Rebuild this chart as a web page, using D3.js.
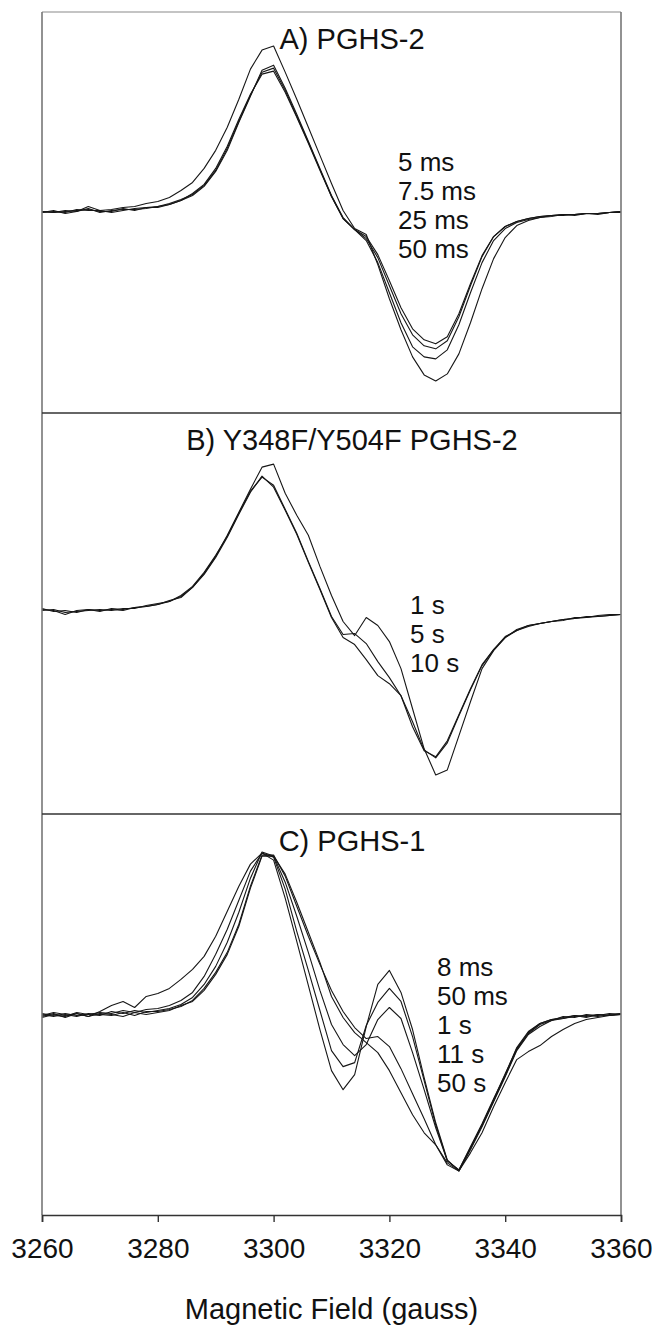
<!DOCTYPE html>
<html>
<head>
<meta charset="utf-8">
<script src="https://cdn.jsdelivr.net/npm/d3@7"></script>
<style>
  html, body { margin: 0; padding: 0; background: #fff; }
  svg { display: block; font-family: "Liberation Sans", Arial, Helvetica, sans-serif; }
</style>
</head>
<body>
<svg id="chart" width="652" height="1330"></svg>
<script>
// Magnetic field sampling points (gauss), shared by every EPR trace
const field = [3260, 3262, 3264, 3266, 3268, 3270, 3272, 3274, 3276, 3278,
               3280, 3282, 3284, 3286, 3288, 3290, 3292, 3294, 3296, 3298,
               3300, 3302, 3304, 3306, 3308, 3310, 3312, 3314, 3316, 3318,
               3320, 3322, 3324, 3326, 3328, 3330, 3332, 3334, 3336, 3338,
               3340, 3342, 3344, 3346, 3348, 3350, 3352, 3354, 3356, 3358, 3360];

const fieldTicks = [3260, 3280, 3300, 3320, 3340, 3360];

const panelTitles = ["A) PGHS-2", "B) Y348F/Y504F PGHS-2", "C) PGHS-1"];
const labelsA = ["5 ms", "7.5 ms", "25 ms", "50 ms"];
const labelsB = ["1 s", "5 s", "10 s"];
const labelsC = ["8 ms", "50 ms", "1 s", "11 s", "50 s"];

// Derivative EPR signal, arbitrary units (baseline = 0)
// A) PGHS-2
const pghs2_5ms   = [1, 0, 2, 1, 6, 2, 3, 5, 6, 9, 11, 15, 22, 30, 44, 62, 85, 113, 143, 162,
                     166, 140, 113, 85, 57, 29, 2, -16, -22, -52, -86, -117, -144, -162, -168, -161, -141, -110, -76, -46,
                     -25, -13, -8, -5, -4, -2, -3, -1, -2, 0, 1];
const pghs2_7_5ms = [0, 2, -1, 1, 4, 0, 2, 3, 3, 4, 6, 8, 12, 17, 26, 41, 62, 90, 116, 142,
                     147, 124, 98, 71, 44, 17, -5, -17, -24, -42, -68, -95, -116, -127, -131, -124, -101, -71, -43, -24,
                     -14, -9, -6, -4, -3, -2, -2, -1, -1, 0, 1];
const pghs2_25ms  = [1, 0, 1, 2, 3, 1, 1, 4, 2, 5, 6, 9, 13, 18, 27, 42, 64, 91, 117, 140,
                     144, 122, 96, 70, 43, 16, -6, -17, -26, -45, -73, -101, -122, -133, -136, -128, -104, -73, -44, -24,
                     -14, -9, -6, -4, -3, -2, -2, -1, -1, 0, 0];
const pghs2_50ms  = [0, 1, 0, 3, 2, 2, 0, 2, 4, 5, 5, 8, 12, 19, 28, 44, 66, 93, 118, 138,
                     141, 120, 95, 69, 42, 16, -6, -17, -28, -50, -80, -110, -134, -144, -146, -137, -112, -80, -50, -28,
                     -16, -10, -7, -5, -3, -3, -2, -1, -1, 0, 1];

// B) Y348F/Y504F PGHS-2
const mutant_1s  = [4, 3, -1, 3, 4, 2, 5, 4, 6, 7, 9, 12, 17, 26, 40, 57, 78, 101, 124, 146,
                    149, 120, 98, 78, 47, 18, -8, -22, -4, -12, -28, -55, -95, -135, -161, -156, -122, -88, -55, -37,
                    -24, -16, -12, -10, -8, -6, -5, -4, -3, -2, -1];
const mutant_5s  = [3, 4, 1, 2, 3, 4, 3, 5, 5, 8, 10, 12, 18, 27, 41, 58, 77, 100, 122, 136,
                    128, 104, 80, 52, 25, -3, -21, -20, -30, -48, -64, -82, -108, -136, -144, -129, -102, -76, -52, -36,
                    -24, -17, -12, -10, -8, -6, -5, -3, -3, -2, -1];
const mutant_10s = [5, 2, 3, 1, 4, 3, 4, 3, 6, 7, 9, 13, 16, 26, 39, 56, 76, 99, 121, 137,
                    126, 103, 79, 51, 24, -4, -24, -31, -46, -62, -70, -82, -113, -137, -143, -127, -101, -75, -51, -36,
                    -23, -17, -13, -10, -8, -7, -4, -4, -2, -1, -1];

// C) PGHS-1
const pghs1_8ms  = [-2, 1, -3, 1, -2, 3, 9, 13, 7, 18, 21, 26, 35, 45, 58, 78, 103, 128, 150, 161,
                    154, 116, 73, 29, -15, -56, -75, -60, -12, 30, 44, 22, -15, -63, -108, -145, -156, -134, -110, -85,
                    -59, -34, -18, -9, -5, -3, -1, -2, 0, -1, 1];
const pghs1_50ms = [0, -2, 1, -1, 0, 2, 1, 4, 2, 5, 6, 9, 14, 22, 38, 60, 85, 114, 143, 161,
                    157, 125, 83, 44, 4, -36, -52, -48, -11, 12, 26, 13, -22, -66, -110, -146, -155, -133, -111, -86,
                    -61, -35, -19, -10, -6, -2, -3, 0, -1, 1, 0];
const pghs1_1s   = [1, -1, -2, 2, 0, -1, 3, 1, 4, 2, 4, 6, 10, 17, 30, 48, 72, 102, 136, 162,
                    158, 132, 98, 62, 24, -10, -30, -41, -30, -5, 7, -4, -38, -75, -113, -146, -155, -132, -109, -84,
                    -60, -33, -17, -9, -5, -4, -2, -1, -2, 0, 1];
const pghs1_11s  = [-1, 2, 0, -2, 1, 0, -1, 2, -1, 3, 3, 5, 8, 14, 26, 42, 62, 90, 128, 159,
                    159, 138, 108, 78, 50, 24, 3, -13, -24, -22, -32, -54, -79, -104, -130, -150, -156, -135, -112, -87,
                    -62, -36, -20, -12, -6, -4, -1, -3, 0, -1, 0];
const pghs1_50s  = [-3, 0, -1, 1, -2, 1, 0, -2, 2, 0, 2, 4, 9, 13, 24, 40, 60, 88, 126, 158,
                    158, 140, 112, 82, 52, 18, -3, -18, -28, -38, -56, -78, -100, -118, -130, -148, -156, -138, -118, -92,
                    -68, -45, -37, -31, -22, -15, -9, -5, -3, -1, 0];

// ---- layout ----
const plotL = 42, plotR = 621;
const top0 = 12, panelH = 401;
const titleFont = 29, tickFont = 28, labelFont = 26;

const panels = [
  { title: panelTitles[0], labels: labelsA, traces: [pghs2_5ms, pghs2_7_5ms, pghs2_25ms, pghs2_50ms], labelX: 398, labelY0: 150 },
  { title: panelTitles[1], labels: labelsB, traces: [mutant_1s, mutant_5s, mutant_10s], labelX: 410, labelY0: 192 },
  { title: panelTitles[2], labels: labelsC, traces: [pghs1_8ms, pghs1_50ms, pghs1_1s, pghs1_11s, pghs1_50s], labelX: 437, labelY0: 153 }
];

const svg = d3.select("#chart");
const x = d3.scaleLinear().domain([3260, 3360]).range([plotL, plotR]);

panels.forEach((p, i) => {
  const top = top0 + i * panelH;
  const bottom = top + panelH;
  const y = d3.scaleLinear().domain([-200, 200]).range([bottom, top]);
  const g = svg.append("g").attr("class", "panel");

  // spectra
  const line = d3.line()
    .x((d, j) => x(field[j]))
    .y(d => y(d));
  g.selectAll("path.trace")
    .data(p.traces)
    .join("path")
    .attr("class", "trace")
    .attr("d", line)
    .attr("fill", "none")
    .attr("stroke", "#161616")
    .attr("stroke-width", 1.1)
    .attr("stroke-linejoin", "round");

  // panel title
  g.append("text")
    .attr("x", 352)
    .attr("y", top + 27)
    .attr("dy", "0.35em")
    .attr("text-anchor", "middle")
    .attr("font-size", titleFont)
    .attr("fill", "#111")
    .text(p.title);

  // time-point labels
  g.selectAll("text.tlabel")
    .data(p.labels)
    .join("text")
    .attr("class", "tlabel")
    .attr("x", p.labelX)
    .attr("y", (d, k) => top + p.labelY0 + k * 29)
    .attr("dy", "0.35em")
    .attr("font-size", labelFont)
    .attr("fill", "#111")
    .text(d => d);
});

// frame
const yBottom = top0 + 3 * panelH;
svg.append("line").attr("x1", plotL).attr("x2", plotR).attr("y1", top0).attr("y2", top0)
  .attr("stroke", "#8a8a8a").attr("stroke-width", 1.2);
[plotL, plotR].forEach(xx => {
  svg.append("line").attr("x1", xx).attr("x2", xx).attr("y1", top0).attr("y2", yBottom)
    .attr("stroke", "#777").attr("stroke-width", 1.6);
});
[1, 2].forEach(k => {
  svg.append("line").attr("x1", plotL).attr("x2", plotR)
    .attr("y1", top0 + k * panelH).attr("y2", top0 + k * panelH)
    .attr("stroke", "#333").attr("stroke-width", 1.6);
});

// field axis
const axis = svg.append("g")
  .attr("transform", `translate(0,${yBottom})`)
  .call(d3.axisBottom(x).tickValues(fieldTicks).tickSize(7).tickSizeOuter(7).tickPadding(16).tickFormat(d3.format("d")));
axis.select(".domain").attr("stroke", "#333").attr("stroke-width", 1.6);
axis.selectAll(".tick line").attr("stroke", "#333").attr("stroke-width", 1.4);
axis.selectAll(".tick text")
  .attr("font-size", tickFont)
  .attr("font-family", "\"Liberation Sans\", Arial, Helvetica, sans-serif")
  .attr("fill", "#111");

svg.append("text")
  .attr("x", (plotL + plotR) / 2)
  .attr("y", 1309)
  .attr("dy", "0.35em")
  .attr("text-anchor", "middle")
  .attr("font-size", titleFont)
  .attr("fill", "#111")
  .text("Magnetic Field (gauss)");
</script>
</body>
</html>
